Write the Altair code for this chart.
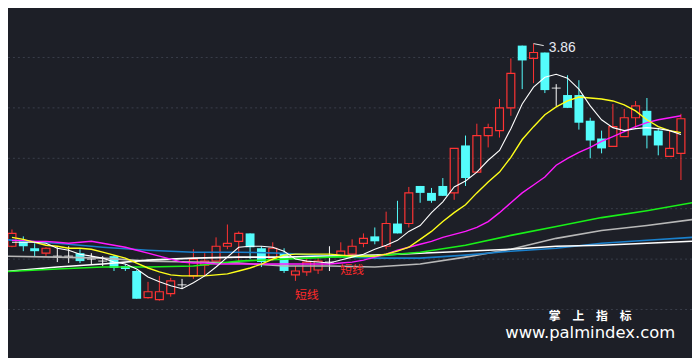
import altair as alt
import pandas as pd

BG = "#1d1f27"
RED = "#ff3333"
CYAN = "#54fcfc"

# ---- candle data (60 sessions) ----
opens = [2.835, 2.86, 2.825, 2.80, 2.785, 2.785, 2.80, 2.77, 2.76, 2.785,
         2.735, 2.71, 2.575, 2.565, 2.595, 2.64, 2.685, 2.74, 2.76, 2.835,
         2.86, 2.90, 2.825, 2.77, 2.80, 2.69, 2.705, 2.715, 2.755, 2.785,
         2.795, 2.85, 2.885, 2.835, 2.95, 2.95, 3.14, 3.105, 3.14, 3.105,
         3.345, 3.21, 3.395, 3.42, 3.535, 3.85, 3.785, 3.815, 3.635, 3.60,
         3.60, 3.47, 3.38, 3.34, 3.39, 3.485, 3.52, 3.42, 3.29, 3.305]
closes = [2.90, 2.835, 2.81, 2.825, 2.785, 2.785, 2.76, 2.77, 2.76, 2.725,
          2.72, 2.57, 2.605, 2.605, 2.66, 2.64, 2.77, 2.76, 2.835, 2.85,
          2.90, 2.83, 2.755, 2.825, 2.71, 2.71, 2.755, 2.76, 2.755, 2.81,
          2.835, 2.875, 2.86, 2.95, 2.90, 3.105, 3.105, 3.065, 3.09, 3.33,
          3.18, 3.395, 3.435, 3.535, 3.71, 3.775, 3.815, 3.625, 3.635, 3.535,
          3.46, 3.37, 3.33, 3.44, 3.485, 3.545, 3.395, 3.345, 3.33, 3.48]
highs = [2.92, 2.885, 2.85, 2.83, 2.83, 2.835, 2.82, 2.80, 2.785, 2.79,
         2.745, 2.715, 2.655, 2.685, 2.675, 2.67, 2.82, 2.80, 2.88, 2.945,
         2.91, 2.90, 2.835, 2.855, 2.825, 2.735, 2.78, 2.78, 2.835, 2.855,
         2.87, 2.90, 2.93, 3.01, 3.065, 3.135, 3.14, 3.13, 3.18, 3.33,
         3.395, 3.455, 3.455, 3.58, 3.785, 3.85, 3.86, 3.815, 3.655, 3.70,
         3.675, 3.485, 3.42, 3.555, 3.53, 3.57, 3.585, 3.43, 3.42, 3.505]
lows = [2.83, 2.81, 2.785, 2.785, 2.755, 2.75, 2.75, 2.745, 2.735, 2.71,
        2.71, 2.57, 2.57, 2.56, 2.58, 2.62, 2.67, 2.685, 2.76, 2.82,
        2.76, 2.77, 2.73, 2.76, 2.70, 2.66, 2.685, 2.695, 2.71, 2.775,
        2.79, 2.83, 2.845, 2.82, 2.90, 2.93, 3.055, 3.055, 3.09, 3.07,
        3.14, 3.21, 3.335, 3.385, 3.495, 3.63, 3.66, 3.61, 3.545, 3.535,
        3.425, 3.28, 3.305, 3.34, 3.39, 3.435, 3.33, 3.295, 3.29, 3.17]

# ---- short moving averages (one value per session) ----
ma5 = [2.855, 2.855, 2.855, 2.85, 2.825, 2.815, 2.795, 2.785, 2.775, 2.755,
       2.745, 2.72, 2.68, 2.655, 2.635, 2.62, 2.65, 2.685, 2.73, 2.78,
       2.83, 2.835, 2.835, 2.83, 2.81, 2.77, 2.76, 2.755, 2.75, 2.765,
       2.78, 2.795, 2.82, 2.84, 2.865, 2.91, 2.94, 3.005, 3.06, 3.135,
       3.165, 3.21, 3.27, 3.32, 3.43, 3.555, 3.64, 3.69, 3.705, 3.685,
       3.63, 3.545, 3.475, 3.435, 3.42, 3.43, 3.435, 3.43, 3.42, 3.40]
ma10 = [2.88, 2.87, 2.855, 2.84, 2.835, 2.825, 2.825, 2.82, 2.805, 2.79,
        2.775, 2.75, 2.725, 2.705, 2.69, 2.685, 2.685, 2.685, 2.69, 2.695,
        2.71, 2.725, 2.745, 2.77, 2.79, 2.795, 2.795, 2.795, 2.795, 2.79,
        2.785, 2.785, 2.785, 2.795, 2.81, 2.83, 2.87, 2.91, 2.96, 3.005,
        3.045, 3.105, 3.16, 3.21, 3.285, 3.375, 3.44, 3.50, 3.54, 3.57,
        3.59, 3.585, 3.58, 3.57, 3.55, 3.52, 3.475, 3.44, 3.42, 3.41]
ma20 = [2.865, 2.865, 2.86, 2.86, 2.855, 2.85, 2.855, 2.86, 2.85, 2.84,
        2.83, 2.815, 2.80, 2.785, 2.77, 2.755, 2.75, 2.75, 2.745, 2.745,
        2.745, 2.745, 2.745, 2.745, 2.745, 2.745, 2.745, 2.745, 2.745, 2.75,
        2.755, 2.765, 2.78, 2.795, 2.815, 2.83, 2.845, 2.86, 2.88, 2.895,
        2.91, 2.93, 2.96, 3.005, 3.055, 3.105, 3.145, 3.185, 3.245, 3.28,
        3.31, 3.335, 3.365, 3.39, 3.415, 3.44, 3.46, 3.475, 3.485, 3.495]

# ---- long moving averages (read every 4 sessions) ----
long_idx = [-1, 4, 8, 12, 16, 20, 24, 28, 32, 36, 40, 44, 48, 52, 56, 60]
ma_green = [2.705, 2.72, 2.73, 2.73, 2.735, 2.76, 2.77, 2.78, 2.785, 2.805,
            2.84, 2.89, 2.935, 2.98, 3.015, 3.055]
ma_gray = [2.785, 2.78, 2.775, 2.76, 2.755, 2.75, 2.735, 2.735, 2.73, 2.745,
           2.78, 2.82, 2.875, 2.915, 2.94, 2.97]
ma_white = [2.705, 2.73, 2.745, 2.765, 2.775, 2.78, 2.78, 2.785, 2.79, 2.80,
            2.81, 2.82, 2.835, 2.84, 2.85, 2.86]
ma_blue = [2.87, 2.85, 2.83, 2.815, 2.805, 2.805, 2.80, 2.785, 2.775, 2.775,
           2.79, 2.81, 2.825, 2.85, 2.865, 2.88]

grid_levels = [4.045, 3.79, 3.535, 3.28, 3.025, 2.77, 2.515]
signal_idx = [26, 30]
signal_price = [2.59, 2.715]
signal_text = ["短线", "短线"]

# ---- frames ----
n = len(opens)
df = pd.DataFrame({"i": list(range(n)), "open": opens, "close": closes,
                   "high": highs, "low": lows})
up = df[df.close > df.open]
down = df[df.close < df.open]
flat = df[df.close == df.open]

# plot area sits 8px in from the page corner
x_scale = alt.Scale(domain=[0.086, 59.54], nice=False, zero=False)
y_scale = alt.Scale(domain=[2.28, 4.03], nice=False, zero=False)


def X(f="i"):
    return alt.X(f"{f}:Q", scale=x_scale, axis=None)


def Y(f):
    return alt.Y(f"{f}:Q", scale=y_scale, axis=None)


grid = alt.Chart(pd.DataFrame({"g": grid_levels})).mark_rule(
    color="#3b3f4b", strokeDash=[2, 3], strokeWidth=1, clip=True
).encode(y=Y("g"))

down_wick = alt.Chart(down).mark_rule(color=CYAN, strokeWidth=1, clip=True).encode(
    x=X(), y=Y("low"), y2="high:Q")
down_body = alt.Chart(down).mark_bar(color=CYAN, size=9, clip=True).encode(
    x=X(), y=Y("open"), y2="close:Q")

up_wick_hi = alt.Chart(up).mark_rule(color=RED, strokeWidth=1, clip=True).encode(
    x=X(), y=Y("high"), y2="close:Q")
up_wick_lo = alt.Chart(up).mark_rule(color=RED, strokeWidth=1, clip=True).encode(
    x=X(), y=Y("open"), y2="low:Q")
up_body = alt.Chart(up).mark_bar(fillOpacity=0, stroke=RED, strokeWidth=1.2, size=8,
                                 clip=True).encode(
    x=X(), y=Y("open"), y2="close:Q")

flat_wick = alt.Chart(flat).mark_rule(color="#ffffff", strokeWidth=1).encode(
    x=X(), y=Y("low"), y2="high:Q")
flat_tick = alt.Chart(flat).mark_tick(color="#ffffff", size=9, thickness=1.2,
                                      orient="horizontal").encode(x=X(), y=Y("close"))

ma_df = pd.DataFrame({"i": list(range(n)), "ma5": ma5, "ma10": ma10, "ma20": ma20})
long_df = pd.DataFrame({"i": long_idx, "g": ma_green, "s": ma_gray,
                        "w": ma_white, "b": ma_blue})


def line(data, field, color, w):
    return alt.Chart(data).mark_line(color=color, strokeWidth=w, clip=True).encode(
        x=X(), y=Y(field))


lines = [
    line(long_df, "s", "#b8b8b8", 1.6),
    line(long_df, "b", "#1a80cc", 1.6),
    line(long_df, "w", "#ffffff", 1.6),
    line(long_df, "g", "#19f019", 1.6),
    line(ma_df, "ma20", "#ff1aff", 1.4),
    line(ma_df, "ma10", "#ffff1a", 1.4),
    line(ma_df, "ma5", "#ffffff", 1.1),
]

# max-high annotation
top_i = highs.index(max(highs))
peak = pd.DataFrame({"i": [top_i], "i2": [top_i + 0.9], "p": [max(highs)],
                     "p2": [max(highs) - 0.01], "t": [f"{max(highs):.2f}"],
                     "ti": [top_i + 1.35], "tp": [max(highs) - 0.022]})
peak_rule = alt.Chart(peak).mark_rule(color="#e8e8e8", strokeWidth=1).encode(
    x=X(), x2="i2:Q", y=Y("p"), y2="p2:Q")
peak_text = alt.Chart(peak).mark_text(
    color="#e6e9f0", fontSize=14, align="left", baseline="middle",
    font="Liberation Sans Narrow, Arial Narrow, Liberation Sans"
).encode(x=X("ti"), y=Y("tp"), text="t:N")

sig = pd.DataFrame({"i": signal_idx, "p": signal_price, "t": signal_text})
sig_text = alt.Chart(sig).mark_text(
    color="#ff2a2a", fontSize=12, align="center", baseline="middle",
    font="Noto Sans CJK SC"
).encode(x=X(), y=Y("p"), text="t:N")

wm1 = alt.Chart(pd.DataFrame({"t": ["掌　上　指　标"]})).mark_text(
    color="#ffffff", fontSize=12, fontWeight="bold", font="Noto Sans CJK SC",
    align="center", baseline="middle"
).encode(x=alt.value(589), y=alt.value(310), text="t:N")
wm2 = alt.Chart(pd.DataFrame({"t": ["www.palmindex.com"]})).mark_text(
    color="#ffffff", fontSize=16.6, font="DejaVu Sans",
    align="center", baseline="alphabetic"
).encode(x=alt.value(589), y=alt.value(332), text="t:N")

chart = alt.layer(
    grid, down_wick, down_body, up_wick_hi, up_wick_lo, up_body,
    flat_wick, flat_tick, *lines, peak_rule, peak_text, sig_text, wm1, wm2
).properties(
    width=692, height=350, background=BG, padding=0, autosize="none",
).configure_view(stroke=None)

chart.save("out.html", embed_options={"renderer": "svg", "actions": False})
